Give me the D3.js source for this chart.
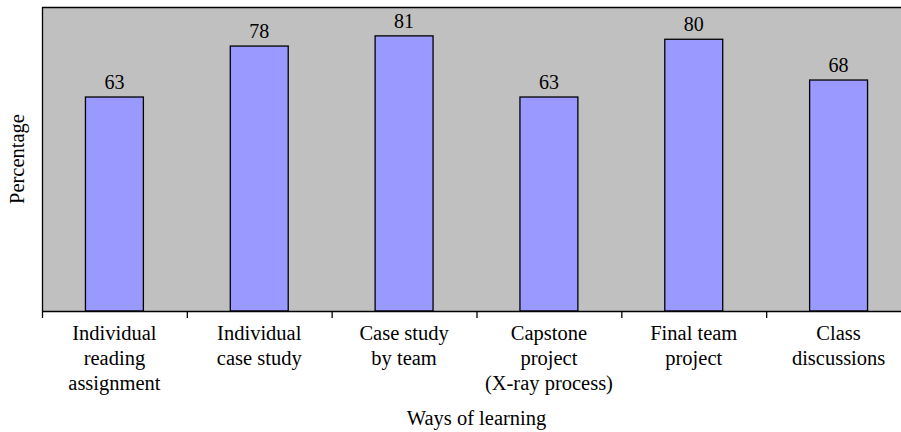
<!DOCTYPE html>
<html>
<head>
<meta charset="utf-8">
<script src="https://cdn.jsdelivr.net/npm/d3@7"></script>
<style>
  html, body { margin: 0; padding: 0; background: #fff; }
  svg text { font-family: 'Liberation Serif', 'DejaVu Serif', serif; }
</style>
</head>
<body>
<svg id="chart" width="901" height="432"></svg>
<script>
// Share of students rating each way of learning as helpful
const categories = [
  ["Individual", "reading", "assignment"],
  ["Individual", "case study"],
  ["Case study", "by team"],
  ["Capstone", "project", "(X-ray process)"],
  ["Final team", "project"],
  ["Class", "discussions"]
];
const values = [63, 78, 81, 63, 80, 68];
const yDomain = [0, 89.5];
const xTitle = "Ways of learning";
const yTitle = "Percentage";

const serif = "'Liberation Serif', 'DejaVu Serif', serif";
const svg = d3.select("#chart").attr("font-family", serif);
const plotLeft = 42, plotRight = 911, plotTop = 7, plotBottom = 311;

const x = d3.scaleBand()
  .domain(d3.range(values.length))
  .range([plotLeft, plotRight]);
const y = d3.scaleLinear().domain(yDomain).range([plotBottom, plotTop]);

// plot background
svg.append("rect")
  .attr("x", plotLeft).attr("y", plotTop)
  .attr("width", plotRight - plotLeft).attr("height", plotBottom - plotTop)
  .attr("fill", "#c0c0c0");
svg.append("line")
  .attr("x1", plotLeft).attr("x2", plotRight).attr("y1", plotTop + 0.5).attr("y2", plotTop + 0.5)
  .attr("stroke", "#000").attr("stroke-width", 1.3);
svg.append("line")
  .attr("x1", plotLeft + 0.5).attr("x2", plotLeft + 0.5).attr("y1", plotTop).attr("y2", plotBottom)
  .attr("stroke", "#000").attr("stroke-width", 1.3);

// bars
const barW = x.bandwidth() * 0.4;
svg.append("g").selectAll("rect")
  .data(values)
  .join("rect")
  .attr("x", (d, i) => x(i) + (x.bandwidth() - barW) / 2)
  .attr("y", d => y(d))
  .attr("width", barW)
  .attr("height", d => y(0) - y(d))
  .attr("fill", "#9999ff")
  .attr("stroke", "#000")
  .attr("stroke-width", 1.3);

// value labels
svg.append("g").selectAll("text")
  .data(values)
  .join("text")
  .attr("x", (d, i) => x(i) + x.bandwidth() / 2)
  .attr("y", d => y(d) - 8)
  .attr("text-anchor", "middle")
  .attr("font-family", serif)
  .attr("font-size", 20)
  .attr("fill", "#000")
  .text(d => d);

// x axis with ticks on band boundaries
const axisG = svg.append("g");
axisG.append("line")
  .attr("x1", plotLeft).attr("x2", plotRight).attr("y1", plotBottom + 0.5).attr("y2", plotBottom + 0.5)
  .attr("stroke", "#000").attr("stroke-width", 1.3);
axisG.selectAll("line.tick")
  .data(d3.range(values.length + 1))
  .join("line")
  .attr("class", "tick")
  .attr("x1", i => (i < values.length ? x(i) : plotRight) + 0.5)
  .attr("x2", i => (i < values.length ? x(i) : plotRight) + 0.5)
  .attr("y1", plotBottom).attr("y2", plotBottom + 7)
  .attr("stroke", "#000").attr("stroke-width", 1.3);

const labels = axisG.selectAll("text.cat")
  .data(categories)
  .join("text")
  .attr("class", "cat")
  .attr("text-anchor", "middle")
  .attr("font-family", serif)
  .attr("font-size", 20.5)
  .attr("fill", "#000");
labels.selectAll("tspan")
  .data((d, i) => d.map(line => ({ line, i })))
  .join("tspan")
  .attr("x", d => x(d.i) + x.bandwidth() / 2)
  .attr("y", (d, j) => 340 + j * 25)
  .text(d => d.line);

// axis titles
svg.append("text")
  .attr("x", (plotLeft + plotRight) / 2)
  .attr("y", 425)
  .attr("text-anchor", "middle")
  .attr("font-family", serif)
  .attr("font-size", 20.5)
  .text(xTitle);

svg.append("text")
  .attr("transform", `translate(24, ${(plotTop + plotBottom) / 2}) rotate(-90)`)
  .attr("text-anchor", "middle")
  .attr("font-family", serif)
  .attr("font-size", 20.5)
  .text(yTitle);
</script>
</body>
</html>
